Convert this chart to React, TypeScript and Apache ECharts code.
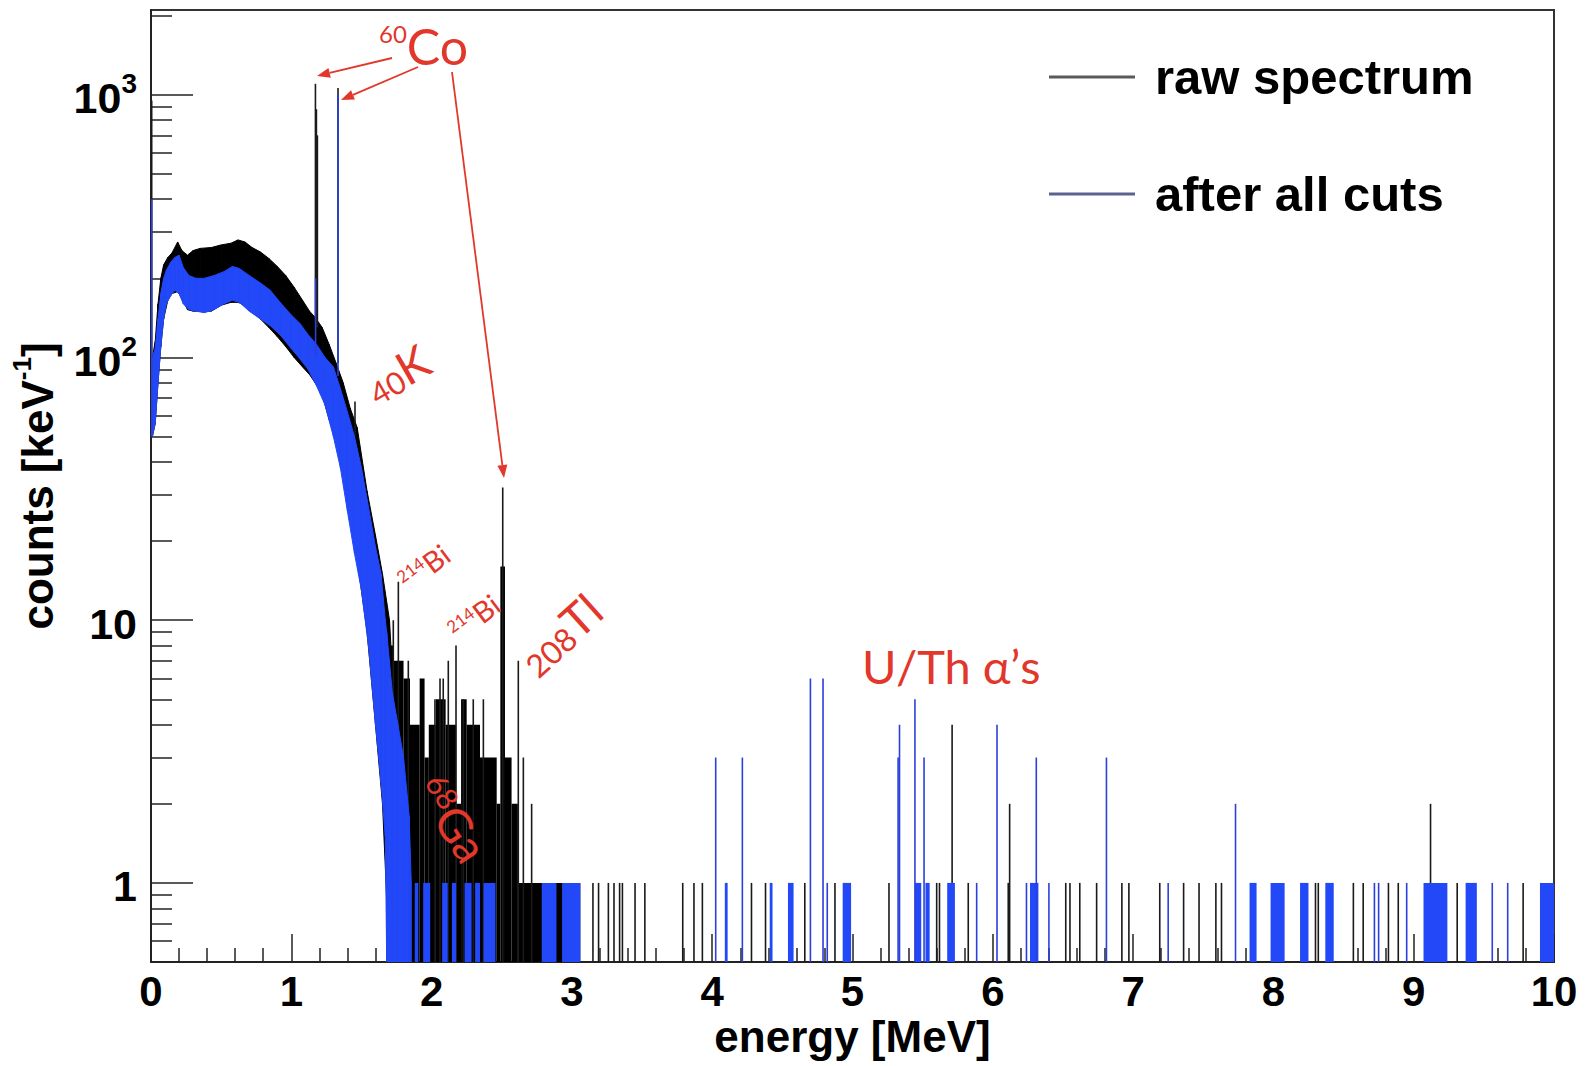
import React, { useEffect, useRef } from 'react';
import * as echarts from 'echarts';

// ---------------- axis ranges & ticks ----------------
const Y_MIN = 0.5;
const Y_MAX = 2100;
const BIN = 0.01; // MeV, width of one histogram bin on screen
const yMajorTicks = [1, 10, 100, 1000];
const yMinorTicks = [0.6, 0.7, 0.8, 0.9, 2, 3, 4, 5, 6, 7, 8, 9, 20, 30, 40, 50, 60, 70, 80, 90, 200, 300, 400, 500, 600, 700, 800, 900, 2000];

// ---------------- raw spectrum ----------------
// continuum envelope (counts per keV): lower / upper edge of the fluctuating histogram
const rawBandE = [0.01, 0.03, 0.05, 0.07, 0.09, 0.12, 0.15, 0.19, 0.22, 0.26, 0.30, 0.35, 0.43, 0.50, 0.57, 0.62, 0.67, 0.72, 0.78, 0.84, 0.90, 0.96, 1.02, 1.08, 1.13, 1.17, 1.22, 1.27, 1.32, 1.37, 1.42, 1.47, 1.54, 1.60, 1.65, 1.70, 1.71];
const rawBandLo = [50, 56, 80, 110, 140, 165, 175, 178, 168, 152, 150, 150, 150, 158, 162, 162, 158, 150, 140, 130, 120, 110, 100, 92, 86, 80, 72, 58, 48, 38, 26, 17, 9, 4, 2, 0, 0];
const rawBandHi = [100, 115, 160, 200, 225, 240, 250, 275, 255, 245, 255, 260, 262, 268, 272, 280, 275, 262, 252, 238, 222, 205, 185, 165, 150, 142, 130, 112, 95, 80, 64, 54, 31, 21, 15, 10, 8];
// low-statistics region: groups of bins (from, to, max count), zero-count bins in between
const rawStepFrom = [1.70, 1.73, 1.80, 1.846, 1.915, 1.95, 1.98, 2.03, 2.10, 2.175, 2.21, 2.25, 2.345, 2.464, 2.49, 2.523, 2.57, 2.615];
const rawStepTo = [1.73, 1.80, 1.846, 1.915, 1.95, 1.98, 2.03, 2.10, 2.175, 2.21, 2.25, 2.345, 2.464, 2.49, 2.523, 2.57, 2.615, 3.06];
const rawStepCount = [8, 7, 6, 4, 6, 3, 4, 5, 4, 2, 5, 4, 3, 2, 16, 3, 2, 1];
// single-bin lines: energy, count, neighbouring level
const rawLineE = [0.005, 1.172, 1.179, 1.186, 1.333, 1.454, 1.727, 1.763, 1.834, 2.024, 2.06, 2.083, 2.119, 2.174, 2.226, 2.297, 2.369, 2.507, 2.618, 2.654, 2.713,
  3.15, 3.19, 3.26, 3.30, 3.34, 3.36, 3.45, 3.52, 3.79, 3.87, 3.93, 4.28, 4.38, 4.66, 4.875, 5.26, 5.60, 5.62, 5.71, 5.825, 6.11, 6.12,
  6.52, 6.55, 6.62, 6.74, 6.92, 6.97, 7.19, 7.36, 7.47, 7.59, 7.63, 8.30, 8.32, 8.57, 8.64, 8.82, 8.89, 9.12, 9.31, 9.78];
const rawLineCount = [950, 1100, 880, 700, 1060, 68, 10, 14, 7, 5, 6, 6, 7, 8, 5, 5, 5, 32, 7, 3, 2,
  1, 1, 1, 1, 1, 1, 1, 1, 1, 1, 1, 1, 1, 1, 1, 1, 1, 1, 4, 1, 1, 2,
  1, 1, 1, 1, 1, 1, 1, 1, 1, 1, 1, 1, 1, 1, 1, 1, 1, 2, 1, 1];
const rawLineBase = [50, 140, 130, 130, 95, 50, 0, 0, 0, 0, 0, 0, 0, 0, 0, 0, 0, 0, 0, 0, 0,
  0, 0, 0, 0, 0, 0, 0, 0, 0, 0, 0, 0, 0, 0, 0, 0, 0, 0, 0, 0, 0, 0,
  0, 0, 0, 0, 0, 0, 0, 0, 0, 0, 0, 0, 0, 0, 0, 0, 0, 0, 0, 0];

// ---------------- after all cuts ----------------
const cutBandE = [0.01, 0.03, 0.05, 0.07, 0.09, 0.11, 0.14, 0.17, 0.20, 0.23, 0.27, 0.32, 0.38, 0.45, 0.52, 0.58, 0.63, 0.70, 0.78, 0.85, 0.92, 1.00, 1.06, 1.12, 1.18, 1.24, 1.30, 1.35, 1.40, 1.45, 1.50, 1.55, 1.60, 1.64, 1.67, 1.68, 1.72, 1.76, 1.80, 1.84, 1.855];
const cutBandLo = [50, 56, 80, 110, 140, 160, 172, 180, 175, 160, 152, 150, 148, 152, 160, 165, 162, 150, 140, 132, 122, 108, 99, 90, 78, 66, 50, 38, 26, 18, 13, 8, 4, 2.4, 1.5, 0, 0, 0, 0, 0, 0];
const cutBandHi = [100, 108, 140, 175, 200, 215, 230, 240, 245, 220, 205, 200, 200, 205, 212, 222, 218, 205, 192, 180, 162, 145, 135, 122, 112, 100, 92, 76, 62, 50, 38, 27, 19, 15, 10, 9, 5.3, 4, 3, 1.8, 1];
const cutStepFrom = [1.88, 1.94, 2.075, 2.145, 2.235, 2.31, 2.37, 2.785, 2.93, 4.09, 4.41, 4.54, 4.93, 5.445, 5.52, 5.675, 6.265, 7.83, 7.98, 8.19, 8.37, 9.07, 9.37, 9.90];
const cutStepTo = [1.905, 1.99, 2.115, 2.175, 2.285, 2.345, 2.455, 2.89, 3.06, 4.11, 4.43, 4.58, 4.99, 5.49, 5.55, 5.73, 6.325, 7.88, 8.08, 8.25, 8.43, 9.24, 9.45, 10.0];
const cutStepCount = [1, 1, 1, 1, 1, 1, 1, 1, 1, 1, 1, 1, 1, 1, 1, 1, 1, 1, 1, 1, 1, 1, 1, 1];
const cutLineE = [0.005, 1.173, 1.333, 4.025, 4.215, 4.70, 4.79, 4.82, 5.325, 5.335, 5.445, 5.51, 5.885, 6.03, 6.24, 6.31, 6.40, 6.81, 7.25, 7.73, 8.72, 8.75, 8.95, 9.56, 9.67];
const cutLineCount = [400, 200, 1000, 3, 3, 6, 6, 1, 3, 4, 5, 3, 1, 4, 1, 3, 1, 3, 1, 2, 1, 1, 1, 1, 1];
const cutLineBase = [50, 100, 85, 0, 0, 0, 0, 0, 0, 0, 0, 0, 0, 0, 0, 0, 0, 0, 0, 0, 0, 0, 0, 0, 0];

// ---------------- styling ----------------
const RAW_COLOR = '#000000';
const RAW_LINE_COLOR = '#1a1a1a';
const CUT_COLOR = '#2248f8';
const CUT_LINE_COLOR = '#2a40dc';
const RED = '#e2372b';
const AXIS_FONT = '"Liberation Sans", Arial, Helvetica, sans-serif';
const NOTE_FONT = 'Lato, "Open Sans", sans-serif';
const RAW_NAME = 'raw spectrum';
const CUT_NAME = 'after all cuts';

function bandSeries(name: string, E: number[], lo: number[], hi: number[], color: string) {
  return {
    type: 'custom', name, silent: true, clip: true,
    data: E.map((e, i) => [e, lo[i], hi[i]]),
    encode: { x: 0, y: 2 },
    renderItem: (params: any, api: any) => {
      const i = params.dataIndex;
      if (i >= E.length - 1) return { type: 'group', children: [] };
      const c = (e: number, v: number) => api.coord([e, Math.max(v, Y_MIN)]);
      const pts = [c(E[i], hi[i]), c(E[i + 1], hi[i + 1]), c(E[i + 1], lo[i + 1]), c(E[i], lo[i])];
      return { type: 'polygon', shape: { points: pts }, style: { fill: color, stroke: color, lineWidth: 1 } };
    },
  };
}

function barSeries(name: string, from: number[], to: number[], count: number[], base: number[], color: string) {
  return {
    type: 'custom', name, silent: true, clip: true,
    data: from.map((f, i) => [f, to[i], base[i], count[i]]),
    encode: { x: [0, 1], y: 3 },
    renderItem: (params: any, api: any) => {
      const i = params.dataIndex;
      const tl = api.coord([from[i], Math.max(count[i], Y_MIN)]);
      const br = api.coord([to[i], Math.max(base[i], Y_MIN)]);
      let x0 = tl[0];
      let w = br[0] - tl[0];
      if (w < 1.6) { const mid = (tl[0] + br[0]) / 2; x0 = mid - 0.8; w = 1.6; }
      return { type: 'rect', shape: { x: x0, y: tl[1], width: w, height: br[1] - tl[1] }, style: { fill: color } };
    },
  };
}

function lineSeries(name: string, E: number[], count: number[], base: number[], color: string) {
  return barSeries(name, E.map((e) => e - BIN / 2), E.map((e) => e + BIN / 2), count, base, color);
}

function arrow(sx: number, sy: number, tx: number, ty: number) {
  const dx = tx - sx, dy = ty - sy;
  const len = Math.hypot(dx, dy);
  const ux = dx / len, uy = dy / len;
  const L = 13, W = 5;
  const bx = tx - ux * L, by = ty - uy * L;
  return [
    { type: 'line', z: 100, shape: { x1: sx, y1: sy, x2: bx, y2: by }, style: { stroke: RED, lineWidth: 1.8 } },
    { type: 'polygon', z: 100, shape: { points: [[tx, ty], [bx - uy * W, by + ux * W], [bx + uy * W, by - ux * W]] }, style: { fill: RED } },
  ];
}

function note(x: number, y: number, deg: number, text: string, small: number, big: number, smallAlign: string, align = 'center') {
  return {
    type: 'text', z: 100, x, y, rotation: (deg * Math.PI) / 180,
    style: {
      text, align, verticalAlign: 'middle',
      rich: {
        s: { fontSize: small, fontFamily: NOTE_FONT, fill: RED, color: RED, verticalAlign: smallAlign, lineHeight: small },
        b: { fontSize: big, fontFamily: NOTE_FONT, fill: RED, color: RED, verticalAlign: 'bottom', lineHeight: big },
      },
    },
  };
}

export default function App() {
  const ref = useRef<HTMLDivElement>(null);
  useEffect(() => {
    if (!ref.current) return;
    const chart = echarts.init(ref.current, undefined, { renderer: 'svg' });
    const tickStyle = { color: '#222', width: 1.5 };
    const option: any = {
      animation: false,
      backgroundColor: '#ffffff',
      grid: { left: 151, right: 34, top: 10, bottom: 104, show: true, borderColor: '#333', borderWidth: 2, outerBoundsMode: 'none', containLabel: false },
      legend: {
        orient: 'vertical', left: 1044, top: 43, itemWidth: 86, itemHeight: 3, itemGap: 59, icon: 'rect', selectedMode: false,
        data: [
          { name: RAW_NAME, itemStyle: { color: '#5a5a5a' } },
          { name: CUT_NAME, itemStyle: { color: '#5d6390' } },
        ],
        textStyle: { fontSize: 49, fontWeight: 'bold', color: '#000', fontFamily: AXIS_FONT, lineHeight: 58, padding: [0, 0, 0, 15] },
      },
      xAxis: {
        type: 'value', min: 0, max: 10, interval: 1,
        axisLine: { show: true, lineStyle: { color: '#222', width: 2 } },
        axisTick: { show: true, inside: true, length: 28, lineStyle: tickStyle },
        minorTick: { show: true, splitNumber: 5, length: 14, lineStyle: tickStyle },
        splitLine: { show: false },
        axisLabel: { fontSize: 42, fontWeight: 'bold', color: '#000', fontFamily: AXIS_FONT, margin: 8, lineHeight: 42, showMinLabel: true, showMaxLabel: true },
        name: 'energy [MeV]', nameLocation: 'middle', nameGap: 52, nameMoveOverlap: false,
        nameTextStyle: { fontSize: 44, fontWeight: 'bold', color: '#000', fontFamily: AXIS_FONT, lineHeight: 44 },
      },
      yAxis: [
        {
          type: 'log', logBase: 10, min: Y_MIN, max: Y_MAX, position: 'left',
          axisLine: { show: true, lineStyle: { color: '#222', width: 2 } },
          axisTick: { show: true, inside: true, length: 42, customValues: yMajorTicks, lineStyle: tickStyle },
          splitLine: { show: false },
          axisLabel: {
            customValues: yMajorTicks, margin: 14,
            formatter: (v: number) => {
              const p = Math.round(Math.log10(v));
              return p >= 2 ? `{b|10}{s|${p}}` : `{b|${Math.round(v)}}`;
            },
            rich: {
              b: { fontSize: 43, fontWeight: 'bold', color: '#000', fontFamily: AXIS_FONT, lineHeight: 50, verticalAlign: 'bottom' },
              s: { fontSize: 28, fontWeight: 'bold', color: '#000', fontFamily: AXIS_FONT, lineHeight: 28, verticalAlign: 'top' },
            },
          },
          name: '{m|counts [keV}{s|-1}{m|]}', nameLocation: 'middle', nameGap: 92, nameRotate: 90, nameMoveOverlap: false,
          nameTextStyle: {
            rich: {
              m: { fontSize: 44, fontWeight: 'bold', color: '#000', fontFamily: AXIS_FONT, lineHeight: 50, verticalAlign: 'bottom' },
              s: { fontSize: 26, fontWeight: 'bold', color: '#000', fontFamily: AXIS_FONT, lineHeight: 28, verticalAlign: 'top' },
            },
          },
        },
        {
          type: 'log', logBase: 10, min: Y_MIN, max: Y_MAX, position: 'left',
          axisLine: { show: false },
          axisTick: { show: true, inside: true, length: 21, customValues: yMinorTicks, lineStyle: tickStyle },
          axisLabel: { show: false },
          splitLine: { show: false },
        },
      ],
      series: [
        bandSeries(RAW_NAME, rawBandE, rawBandLo, rawBandHi, RAW_COLOR),
        barSeries(RAW_NAME, rawStepFrom, rawStepTo, rawStepCount, rawStepFrom.map(() => 0), RAW_COLOR),
        lineSeries(RAW_NAME, rawLineE, rawLineCount, rawLineBase, RAW_LINE_COLOR),
        bandSeries(CUT_NAME, cutBandE, cutBandLo, cutBandHi, CUT_COLOR),
        barSeries(CUT_NAME, cutStepFrom, cutStepTo, cutStepCount, cutStepFrom.map(() => 0), CUT_COLOR),
        lineSeries(CUT_NAME, cutLineE, cutLineCount, cutLineBase, CUT_LINE_COLOR),
      ],
      graphic: [
        note(379, 46, 0, '{s|60}{b|Co}', 24, 50, 'top', 'left'),
        ...arrow(392, 58, 317, 76),
        ...arrow(418, 67, 341, 100),
        ...arrow(452, 72, 504, 478),
        note(397, 373, 30, '{s|40}{b|K}', 31, 46, 'bottom'),
        note(424, 567, 37, '{s|214}{b|Bi}', 17, 29, 'top'),
        note(474, 617, 37, '{s|214}{b|Bi}', 17, 29, 'top'),
        note(560, 634, 42, '{s|208}{b|Tl}', 32, 46, 'bottom'),
        note(452, 819, -57, '{s|68}{b|Ga}', 30, 46, 'top'),
        { type: 'text', z: 100, x: 862, y: 666, style: { text: 'U/Th α’s', fill: RED, fontSize: 47, fontFamily: NOTE_FONT, align: 'left', verticalAlign: 'middle' } },
      ],
    };
    chart.setOption(option);
    return () => chart.dispose();
  }, []);
  return <div ref={ref} style={{ position: 'fixed', left: 0, top: 0, width: 1588, height: 1066, background: '#fff' }} />;
}
